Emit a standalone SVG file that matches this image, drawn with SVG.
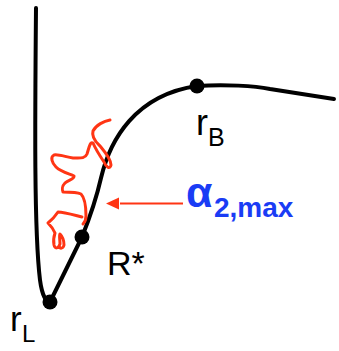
<svg xmlns="http://www.w3.org/2000/svg" width="339" height="351" viewBox="0 0 339 351">
<style>
.curve{fill:none;stroke:#000;stroke-width:4;stroke-linecap:round;stroke-linejoin:round}
.dot{fill:#000}
.lbl{font-family:"Liberation Sans",Arial,sans-serif;fill:#000}
.red{fill:none;stroke:#ff3514;stroke-width:3;stroke-linecap:round;stroke-linejoin:round}
.blue{font-family:"Liberation Sans",Arial,sans-serif;fill:#1a3cf5;font-weight:bold}
</style>
<g id="connectors">
<path class="curve" d="M36,8 C35,120 34,230 40,280 C42,295 46,302 50,302 L82,237 C88,222 96,200 101,178 C110,140 135,95 197,86 C225,84 255,86 270,89 L334,99"/>
<path class="red" d="M110,120 C104,121 96,125 93,131 C91,138 97,143 100,146 C105,152 111,159 111,165 C110,170 106,167 104,162 C100,156 96,150 93,143 C90,141 89,148 87,154 C85,159 80,158 73,158 C66,157 58,154 54,155 C50,157 52,163 56,167 C61,172 70,174 74,176 C75,179 68,180 65,183 C62,186 62,190 63,192 C70,192 77,192 81,194 C85,198 86,208 86,216 C86,220 84,223 83,224"/>
<path class="red" d="M82,217 C74,215 64,212 58,212 C56,215 53,219 48,223 C50,225 53,228 55,233 C54,236 53,240 54,245 C55,249 58,249 60,244 C60,240 59,236 60,234 C62,236 64,241 64,245 C63,249 60,249 59,246"/>
<path d="M183,203.5 L120,203.5" stroke="#ff3514" stroke-width="2" fill="none"/>
<polygon points="106,203.5 119,197.5 119,209.5" fill="#ff3514"/>
</g>
<g id="rL">
<circle class="dot" cx="50" cy="302" r="7.5"/>
<text class="lbl" x="10" y="331" font-size="35">r</text>
<text class="lbl" x="22" y="342" font-size="24">L</text>
</g>
<g id="Rstar">
<circle class="dot" cx="82" cy="237" r="7.5"/>
<text class="lbl" x="107" y="275" font-size="34">R*</text>
</g>
<g id="rB">
<circle class="dot" cx="197" cy="86" r="7.5"/>
<text class="lbl" x="196" y="135" font-size="36">r</text>
<text class="lbl" x="208" y="146" font-size="25">B</text>
</g>
<g id="alpha">
<text class="blue" x="186" y="207" font-size="43">α</text>
<text class="blue" x="214" y="217" font-size="28">2,max</text>
</g>
</svg>
